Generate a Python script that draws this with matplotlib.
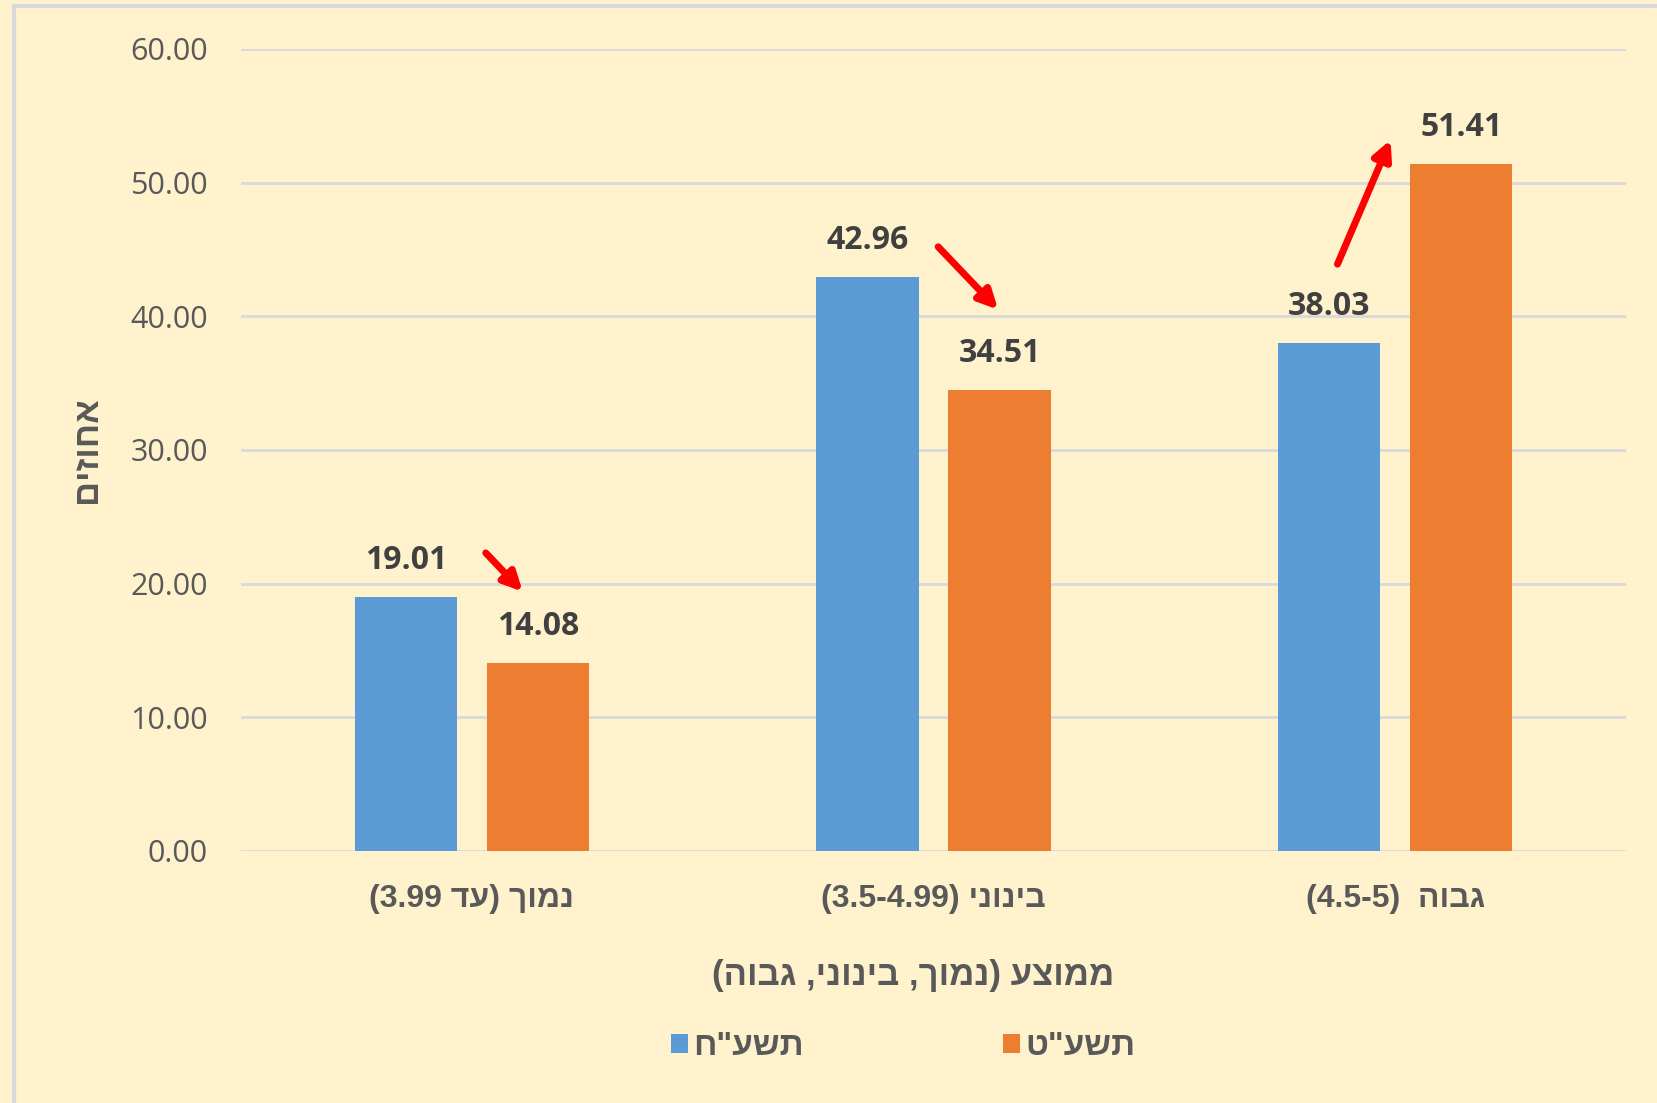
import re
import numpy as np
import matplotlib.pyplot as plt
from matplotlib.patches import Rectangle

# data
categories = ["נמוך (עד 3.99)", "בינוני (3.5-4.99)", "גבוה  (4.5-5)"]
series_names = ['תשע"ח', 'תשע"ט']
vals_2018 = [19.01, 42.96, 38.03]
vals_2019 = [14.08, 34.51, 51.41]
y_ticks = [0, 10, 20, 30, 40, 50, 60]
# red arrows (start x, start y, end x, end y) in data units
arrows = [(0.03, 22.3, 0.11, 19.4),
          (1.01, 45.2, 1.14, 40.5),
          (1.875, 43.9, 1.99, 53.2)]

blue = '#5B9BD5'
orange = '#ED7D31'
bg = '#FFF2CC'
txt = '#595959'
HEB = ['Liberation Sans', 'DejaVu Sans']


def heb(s):
    # simple visual ordering for RTL text (matplotlib has no bidi)
    r = s[::-1]
    r = r.translate(str.maketrans('()', ')('))
    return re.sub(r'[0-9][0-9.\-]*[0-9]|[0-9]', lambda m: m.group(0)[::-1], r)


fig = plt.figure(figsize=(16.58, 11.03), dpi=100, facecolor=bg)
fig.patches.append(Rectangle((14 / 1658, -0.1), 1.2, (1103 - 6) / 1103 + 0.1,
                             transform=fig.transFigure, fill=False,
                             edgecolor='#D9D9D9', lw=3))
ax = fig.add_axes([0.1454, 0.2285, 0.8353, 0.7271])
ax.set_facecolor(bg)

x = np.arange(len(categories))
w = 0.222
off = 0.143
b1 = ax.bar(x - off, vals_2018, w, color=blue, label=heb(series_names[0]), zorder=3)
b2 = ax.bar(x + off, vals_2019, w, color=orange, label=heb(series_names[1]), zorder=3)

for bars, vals in ((b1, vals_2018), (b2, vals_2019)):
    for r, v in zip(bars, vals):
        ax.annotate(f'{v:.2f}', (r.get_x() + r.get_width() / 2, v),
                    xytext=(0, 14), textcoords='offset points',
                    ha='center', va='bottom', fontsize=23, fontweight='bold',
                    color='#404040', family='Open Sans')

for x0, y0, x1, y1 in arrows:
    ax.annotate('', xy=(x1, y1), xytext=(x0, y0),
                arrowprops=dict(arrowstyle='-|>', color='red', lw=5,
                                mutation_scale=28, shrinkA=0, shrinkB=0))

ax.set_xlim(-0.5, 2.5)
ax.set_ylim(0, 60)
ax.set_yticks(y_ticks)
ax.set_yticklabels([f'{t:.2f}' for t in y_ticks], fontsize=22, color=txt, family='Open Sans')
ax.set_xticks(x)
ax.set_xticklabels([heb(c) for c in categories], fontsize=23, color=txt, family=HEB,
                   fontweight='bold')
ax.tick_params(axis='both', length=0)
ax.tick_params(axis='x', pad=24)
ax.tick_params(axis='y', pad=24)
ax.grid(axis='y', color='#D9D9D9', lw=2, zorder=0)
for s in ax.spines.values():
    s.set_visible(False)

ax.set_xlabel(heb('ממוצע (נמוך, בינוני, גבוה)'), fontsize=25, color=txt,
              family=HEB, fontweight='bold')
ax.xaxis.set_label_coords(0.485, -0.135)
ax.set_ylabel(heb('אחוזים'), fontsize=25, color=txt, family=HEB, fontweight='bold')
ax.yaxis.set_label_coords(-0.10, 0.5)

leg = ax.legend(loc='center', bbox_to_anchor=(0.478, -0.244), ncol=2, frameon=False,
                prop={'family': HEB, 'size': 24, 'weight': 'bold'},
                handlelength=0.5, handleheight=0.5,
                handletextpad=0.15, columnspacing=6)
for t in leg.get_texts():
    t.set_color(txt)

fig.savefig('out.png', dpi=100, facecolor=bg)
